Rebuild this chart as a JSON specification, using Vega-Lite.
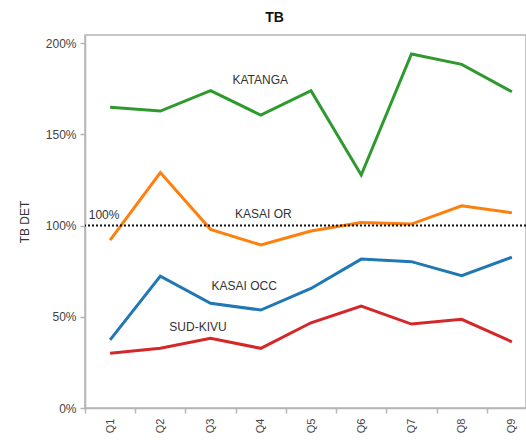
{
  "$schema": "https://vega.github.io/schema/vega-lite/v6.json",
  "autosize": "none",
  "width": 441,
  "height": 373,
  "padding": {"left": 85, "top": 35, "right": 0, "bottom": 34},
  "config": {
    "font": "Liberation Sans",
    "view": {"stroke": "#b5b5b5", "strokeWidth": 1.5},
    "axis": {"domainColor": "#b5b5b5", "domainWidth": 1.5, "tickColor": "#b5b5b5", "tickWidth": 1.5, "labelColor": "#444", "labelFontSize": 12, "grid": false}
  },
  "title": {"text": "TB", "fontSize": 14, "fontWeight": "bold", "color": "#111", "dx": -31, "offset": 10},
  "datasets": {
    "series": [
      {"region": "KATANGA", "q": "Q1", "v": 1.648},
      {"region": "KATANGA", "q": "Q2", "v": 1.627},
      {"region": "KATANGA", "q": "Q3", "v": 1.739},
      {"region": "KATANGA", "q": "Q4", "v": 1.605},
      {"region": "KATANGA", "q": "Q5", "v": 1.739},
      {"region": "KATANGA", "q": "Q6", "v": 1.277},
      {"region": "KATANGA", "q": "Q7", "v": 1.94},
      {"region": "KATANGA", "q": "Q8", "v": 1.883},
      {"region": "KATANGA", "q": "Q9", "v": 1.733},
      {"region": "KASAI OR", "q": "Q1", "v": 0.92},
      {"region": "KASAI OR", "q": "Q2", "v": 1.29},
      {"region": "KASAI OR", "q": "Q3", "v": 0.979},
      {"region": "KASAI OR", "q": "Q4", "v": 0.893},
      {"region": "KASAI OR", "q": "Q5", "v": 0.97},
      {"region": "KASAI OR", "q": "Q6", "v": 1.017},
      {"region": "KASAI OR", "q": "Q7", "v": 1.008},
      {"region": "KASAI OR", "q": "Q8", "v": 1.108},
      {"region": "KASAI OR", "q": "Q9", "v": 1.07},
      {"region": "KASAI OCC", "q": "Q1", "v": 0.373},
      {"region": "KASAI OCC", "q": "Q2", "v": 0.723},
      {"region": "KASAI OCC", "q": "Q3", "v": 0.574},
      {"region": "KASAI OCC", "q": "Q4", "v": 0.537},
      {"region": "KASAI OCC", "q": "Q5", "v": 0.655},
      {"region": "KASAI OCC", "q": "Q6", "v": 0.816},
      {"region": "KASAI OCC", "q": "Q7", "v": 0.802},
      {"region": "KASAI OCC", "q": "Q8", "v": 0.725},
      {"region": "KASAI OCC", "q": "Q9", "v": 0.826},
      {"region": "SUD-KIVU", "q": "Q1", "v": 0.30},
      {"region": "SUD-KIVU", "q": "Q2", "v": 0.327},
      {"region": "SUD-KIVU", "q": "Q3", "v": 0.382},
      {"region": "SUD-KIVU", "q": "Q4", "v": 0.327},
      {"region": "SUD-KIVU", "q": "Q5", "v": 0.467},
      {"region": "SUD-KIVU", "q": "Q6", "v": 0.559},
      {"region": "SUD-KIVU", "q": "Q7", "v": 0.46},
      {"region": "SUD-KIVU", "q": "Q8", "v": 0.486},
      {"region": "SUD-KIVU", "q": "Q9", "v": 0.363}
    ],
    "labels": [
      {"label": "KATANGA", "p": 3.49, "v": 1.797},
      {"label": "KASAI OR", "p": 3.55, "v": 1.063},
      {"label": "KASAI OCC", "p": 3.17, "v": 0.668},
      {"label": "SUD-KIVU", "p": 2.25, "v": 0.444},
      {"label": "100%", "p": 0.38, "v": 1.06}
    ]
  },
  "layer": [
    {
      "data": {"name": "series"},
      "mark": {"type": "line", "strokeWidth": 3},
      "encoding": {
        "x": {
          "field": "q", "type": "nominal", "sort": null,
          "scale": {"type": "band", "range": [0, 452], "paddingInner": 0, "paddingOuter": 0},
          "axis": {"title": null, "labelAngle": 270, "tickBand": "extent", "tickSize": 5, "labelPadding": 5, "labelFontSize": 11}
        },
        "y": {
          "field": "v", "type": "quantitative",
          "scale": {"domain": [0, 2.044], "nice": false, "zero": true},
          "axis": {"title": "TB DET", "titleFontSize": 12, "titleFontWeight": "normal", "titleColor": "#333", "titlePadding": 14, "values": [0, 0.5, 1, 1.5, 2], "format": ".0%", "tickSize": 5, "labelPadding": 4}
        },
        "color": {
          "field": "region", "type": "nominal",
          "scale": {"domain": ["KATANGA", "KASAI OR", "KASAI OCC", "SUD-KIVU"], "range": ["#2e9a2e", "#ff7f0e", "#1f77b4", "#d62728"]},
          "legend": null
        }
      }
    },
    {
      "data": {"values": [{"ref": 1}]},
      "mark": {"type": "rule", "color": "#111", "strokeWidth": 2, "strokeDash": [2, 2]},
      "encoding": {"y": {"field": "ref", "type": "quantitative"}}
    },
    {
      "data": {"name": "labels"},
      "mark": {"type": "text", "fontSize": 12, "color": "#333", "align": "center", "baseline": "middle"},
      "encoding": {
        "x": {"field": "p", "type": "quantitative", "scale": {"domain": [0, 9], "range": [0, 452], "nice": false, "zero": false}, "axis": null},
        "y": {"field": "v", "type": "quantitative"},
        "text": {"field": "label"}
      }
    }
  ],
  "resolve": {"scale": {"x": "independent"}, "axis": {"x": "independent"}}
}
